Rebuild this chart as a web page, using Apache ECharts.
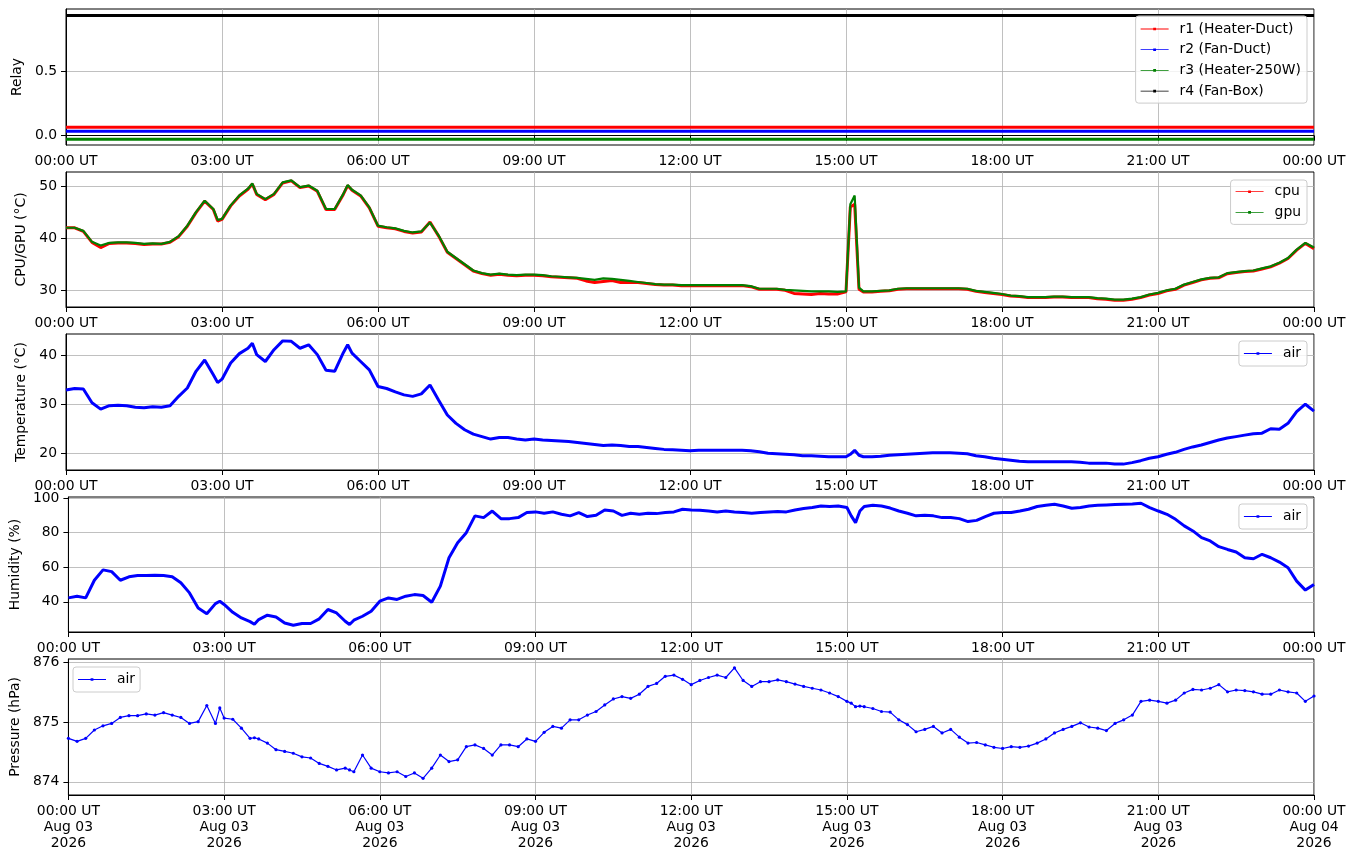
<!DOCTYPE html>
<html>
<head>
<meta charset="utf-8">
<title>Sensors</title>
<script src="https://cdn.jsdelivr.net/npm/echarts@6/dist/echarts.min.js"></script>
<style>
  html, body { margin: 0; padding: 0; background: #fff; }
  #main { width: 1355px; height: 861px; }
</style>
</head>
<body>
<div id="main"></div>
<script>
// sample times, minutes after 00:00 UT on Aug 03 2026
var minutes = [
  0, 10, 20, 30, 40, 50,
  60, 70, 80, 90, 100, 110,
  120, 130, 140, 150, 160, 170, 175,
  180, 190, 200, 210, 215, 220, 230,
  240, 250, 260, 270, 280, 290,
  300, 310, 320, 325, 330, 340, 350,
  360, 370, 380, 390, 400, 410,
  420, 430, 440, 450, 460, 470,
  480, 490, 500, 510, 520, 530,
  540, 550, 560, 570, 580, 590,
  600, 610, 620, 630, 640, 650,
  660, 670, 680, 690, 700, 710,
  720, 730, 740, 750, 760, 770,
  780, 790, 800, 810, 820, 830,
  840, 850, 860, 870, 880, 890,
  900, 905, 910, 915, 920, 930, 940, 950,
  960, 970, 980, 990, 1000, 1010,
  1020, 1030, 1040, 1050, 1060, 1070,
  1080, 1090, 1100, 1110, 1120, 1130,
  1140, 1150, 1160, 1170, 1180, 1190,
  1200, 1210, 1220, 1230, 1240, 1250,
  1260, 1270, 1280, 1290, 1300, 1310,
  1320, 1330, 1340, 1350, 1360, 1370,
  1380, 1390, 1400, 1410, 1420, 1430,
  1440
];

// relay states (plotted with a small offset each)
var relayNames = ['r1 (Heater-Duct)', 'r2 (Fan-Duct)', 'r3 (Heater-250W)', 'r4 (Fan-Box)'];
var relayLevels = [0.065, 0.034, -0.028, 0.93];

var cpu = [
  42.0, 42.0, 41.3, 39.2, 38.2, 39.0,
  39.1, 39.1, 39.0, 38.8, 38.9, 38.9,
  39.2, 40.3, 42.3, 44.9, 47.1, 45.5, 43.3,
  43.6, 46.2, 48.1, 49.4, 50.4, 48.4, 47.4,
  48.4, 50.6, 51.0, 49.7, 50.0, 49.0,
  45.5, 45.5, 48.4, 50.1, 49.2, 48.1, 45.8,
  42.3, 42.0, 41.8, 41.3, 41.0, 41.2,
  43.1, 40.4, 37.3, 36.1, 34.9, 33.7,
  33.2, 32.9, 33.1, 32.9, 32.8, 32.9,
  32.9, 32.8, 32.6, 32.5, 32.4, 32.3,
  31.8, 31.5, 31.7, 31.9, 31.5, 31.5,
  31.5, 31.3, 31.1, 31.0, 31.0, 30.9,
  30.9, 30.9, 30.9, 30.9, 30.9, 30.9,
  30.9, 30.7, 30.2, 30.2, 30.2, 30.0,
  29.4, 29.3, 29.2, 29.4, 29.3, 29.3,
  29.7, 46.0, 46.5, 30.2, 29.7, 29.7, 29.8, 29.9,
  30.2, 30.3, 30.3, 30.3, 30.3, 30.3,
  30.3, 30.3, 30.2, 29.8, 29.6, 29.4,
  29.2, 28.9, 28.8, 28.6, 28.6, 28.6,
  28.7, 28.7, 28.6, 28.6, 28.6, 28.4,
  28.3, 28.1, 28.1, 28.3, 28.6, 29.1,
  29.4, 29.9, 30.2, 31.0, 31.5, 32.0,
  32.3, 32.4, 33.2, 33.4, 33.6, 33.7,
  34.1, 34.5, 35.2, 36.1, 37.7, 39.0,
  38.0
];

var gpu = [
  42.0, 42.0, 41.4, 39.3, 38.6, 39.1,
  39.2, 39.2, 39.1, 38.9, 39.0, 38.9,
  39.3, 40.4, 42.4, 45.0, 47.2, 45.6, 43.5,
  43.7, 46.3, 48.2, 49.5, 50.5, 48.5, 47.5,
  48.5, 50.7, 51.1, 49.8, 50.1, 49.1,
  45.6, 45.6, 48.5, 50.2, 49.3, 48.2, 45.9,
  42.4, 42.1, 41.9, 41.4, 41.1, 41.3,
  43.0, 40.5, 37.4, 36.2, 35.0, 33.8,
  33.3, 33.0, 33.2, 33.0, 32.9, 33.0,
  33.0, 32.9, 32.7, 32.6, 32.5, 32.4,
  32.2, 32.0, 32.3, 32.2, 32.0, 31.8,
  31.6, 31.4, 31.2, 31.1, 31.1, 31.0,
  31.0, 31.0, 31.0, 31.0, 31.0, 31.0,
  31.0, 30.8, 30.3, 30.3, 30.3, 30.1,
  30.0, 29.9, 29.8, 29.8, 29.8, 29.7,
  29.8, 46.5, 48.2, 30.5, 29.8, 29.8, 29.9, 30.0,
  30.3, 30.4, 30.4, 30.4, 30.4, 30.4,
  30.4, 30.4, 30.3, 29.9, 29.7, 29.5,
  29.3, 29.0, 28.9, 28.7, 28.7, 28.7,
  28.8, 28.8, 28.7, 28.7, 28.7, 28.5,
  28.4, 28.2, 28.2, 28.4, 28.7, 29.2,
  29.5, 30.0, 30.3, 31.1, 31.6, 32.1,
  32.4, 32.5, 33.3, 33.5, 33.7, 33.8,
  34.2, 34.6, 35.3, 36.2, 37.8, 39.1,
  38.2
];

var airTemp = [
  32.9, 33.2, 33.1, 30.3, 29.0, 29.7,
  29.8, 29.7, 29.4, 29.3, 29.5, 29.4,
  29.7, 31.6, 33.3, 36.7, 39.0, 36.0, 34.4,
  35.1, 38.4, 40.3, 41.4, 42.4, 40.1, 38.7,
  41.1, 42.9, 42.8, 41.4, 42.1, 40.1,
  36.9, 36.7, 40.5, 42.1, 40.4, 38.7, 37.0,
  33.6, 33.2, 32.5, 31.9, 31.6, 32.1,
  33.9, 30.8, 27.8, 26.1, 24.8, 23.9,
  23.4, 22.9, 23.2, 23.2, 22.9, 22.7,
  22.9, 22.7, 22.6, 22.5, 22.4, 22.2,
  22.0, 21.8, 21.6, 21.7, 21.6, 21.4,
  21.4, 21.2, 21.0, 20.8, 20.7, 20.6,
  20.5, 20.6, 20.6, 20.6, 20.6, 20.6,
  20.6, 20.5, 20.3, 20.0, 19.9, 19.8,
  19.7, 19.5, 19.5, 19.4, 19.3, 19.3,
  19.3, 19.8, 20.6, 19.6, 19.3, 19.3, 19.4, 19.6,
  19.7, 19.8, 19.9, 20.0, 20.1, 20.1,
  20.1, 20.0, 19.9, 19.5, 19.3, 19.0,
  18.8, 18.6, 18.4, 18.3, 18.3, 18.3,
  18.3, 18.3, 18.3, 18.2, 18.0, 18.0,
  18.0, 17.8, 17.8, 18.1, 18.5, 19.0,
  19.3, 19.8, 20.2, 20.8, 21.3, 21.7,
  22.2, 22.7, 23.1, 23.4, 23.7, 24.0,
  24.1, 25.0, 24.9, 26.1, 28.5, 30.0,
  28.6
];

var airHum = [
  42.3, 43.3, 42.3, 52.5, 58.5, 57.5,
  52.5, 54.5, 55.3, 55.3, 55.4, 55.3,
  54.5, 51.0, 45.2, 36.5, 33.2, 39.0, 40.4,
  38.5, 34.0, 30.7, 28.6, 27.1, 29.8, 32.3,
  31.3, 27.8, 26.5, 27.5, 27.5, 30.2,
  35.6, 33.6, 28.8, 26.9, 29.4, 31.7, 34.6,
  40.4, 42.3, 41.4, 43.3, 44.2, 43.7,
  39.8, 49.1, 65.5, 74.2, 80.0, 89.7,
  88.7, 92.5, 88.1, 88.1, 88.7, 91.6,
  92.0, 91.2, 92.0, 90.6, 89.7, 91.6,
  89.3, 90.0, 93.1, 92.5, 90.0, 91.2,
  90.6, 91.2, 91.0, 91.6, 92.0, 93.5,
  93.1, 92.9, 92.5, 92.0, 92.5, 92.0,
  91.6, 91.2, 91.6, 92.0, 92.2, 92.0,
  93.1, 93.9, 94.5, 95.4, 95.1, 95.4,
  94.5, 89.7, 85.8, 92.5, 95.1, 95.8, 95.4, 94.2,
  92.5, 91.2, 89.7, 90.0, 89.7, 88.7,
  88.7, 88.1, 86.4, 87.1, 89.3, 91.2,
  91.6, 91.6, 92.5, 93.5, 95.1, 95.8,
  96.4, 95.4, 94.1, 94.5, 95.4, 95.8,
  96.0, 96.2, 96.4, 96.6, 97.0, 94.5,
  92.5, 90.6, 87.7, 83.9, 81.0, 77.1,
  75.2, 71.9, 70.3, 68.8, 65.5, 64.9,
  67.5, 65.5, 63.0, 59.7, 52.0, 46.8,
  50.1
];

var airPres = [
  874.73, 874.68, 874.73, 874.87, 874.94, 874.98,
  875.08, 875.11, 875.11, 875.14, 875.12, 875.16,
  875.12, 875.08, 874.98, 875.01, 875.28, 874.98, 875.24,
  875.07, 875.05, 874.90, 874.73, 874.74, 874.72, 874.65,
  874.54, 874.51, 874.48, 874.42, 874.40, 874.31,
  874.26, 874.20, 874.23, 874.20, 874.17, 874.45, 874.23,
  874.17, 874.15, 874.17, 874.09, 874.15, 874.06,
  874.23, 874.45, 874.34, 874.37, 874.59, 874.62,
  874.56, 874.45, 874.62, 874.62, 874.59, 874.72,
  874.68, 874.83, 874.93, 874.90, 875.04, 875.04,
  875.12, 875.18, 875.29, 875.39, 875.43, 875.40,
  875.47, 875.60, 875.65, 875.77, 875.79, 875.72,
  875.63, 875.70, 875.75, 875.79, 875.75, 875.91,
  875.70, 875.60, 875.68, 875.68, 875.71, 875.68,
  875.64, 875.60, 875.57, 875.54, 875.49, 875.43,
  875.35, 875.32, 875.26, 875.27, 875.26, 875.23, 875.18, 875.17,
  875.04, 874.96, 874.84, 874.88, 874.93, 874.82,
  874.88, 874.75, 874.65, 874.66, 874.62, 874.58,
  874.56, 874.59, 874.58, 874.60, 874.65, 874.72,
  874.82, 874.88, 874.93, 874.99, 874.92, 874.90,
  874.86, 874.98, 875.04, 875.12, 875.35, 875.37,
  875.35, 875.32, 875.37, 875.49, 875.55, 875.54,
  875.57, 875.63, 875.51, 875.54, 875.53, 875.51,
  875.47, 875.47, 875.54, 875.51, 875.49, 875.35,
  875.44
];

// tick labels
var xTicksHours = [0, 3, 6, 9, 12, 15, 18, 21, 24];
var dayLabels = ['Aug 03', 'Aug 04'];
var yearLabel = '2026';
var relayTicks = [0, 0.5];
var cpuTicks = [30, 40, 50];
var tempTicks = [20, 30, 40];
var humTicks = [40, 60, 80, 100];
var presTicks = [874, 875, 876];

var FONT = 'DejaVu Sans';
var FS = 13.9;
var GRID_COLOR = '#b0b0b0';

function pairs(values) {
  return minutes.map(function (m, i) { return [m / 60, values[i]]; });
}

function hhmm(h) {
  var hh = h % 24;
  return (hh < 10 ? '0' : '') + hh + ':00 UT';
}

var panels = [
  { top: 9,   height: 136, min: -0.072, max: 0.981, ticks: relayTicks, name: 'Relay', nameGap: 32, dec: 1 },
  { top: 172, height: 135, min: 26.8,  max: 52.7,  ticks: cpuTicks,  name: 'CPU/GPU (°C)', nameGap: 31, dec: 0 },
  { top: 334, height: 136, min: 16.6,  max: 44.3,  ticks: tempTicks, name: 'Temperature (°C)', nameGap: 34.5, dec: 0 },
  { top: 497, height: 135, min: 22.6,  max: 100.6, ticks: humTicks,  name: 'Humidity (%)', nameGap: 42, dec: 0 },
  { top: 659, height: 136, min: 873.78, max: 876.06, ticks: presTicks, name: 'Pressure (hPa)', nameGap: 40, dec: 0 }
];

var grids = [], xAxes = [], yAxes = [];
panels.forEach(function (p, i) {
  var last = i === panels.length - 1;
  grids.push({ left: 66, right: 41, top: p.top, height: p.height, show: true,
               borderColor: '#000', borderWidth: 1, backgroundColor: 'transparent' });
  xAxes.push({
    type: 'value', gridIndex: i, min: 0, max: 24, interval: 3,
    axisLine: { lineStyle: { color: '#000', width: 1 } },
    axisTick: { length: 5, lineStyle: { color: '#000' } },
    axisLabel: {
      margin: 8, color: '#000', fontFamily: FONT, fontSize: FS, lineHeight: 16,
      formatter: function (v) {
        if (!last) return hhmm(v);
        return hhmm(v) + '\n' + dayLabels[v >= 24 ? 1 : 0] + '\n' + yearLabel;
      }
    },
    splitLine: { show: true, lineStyle: { color: GRID_COLOR, width: 0.8 } }
  });
  yAxes.push({
    type: 'value', gridIndex: i, min: p.min, max: p.max,
    name: p.name, nameLocation: 'middle', nameGap: p.nameGap, nameRotate: 90,
    nameTextStyle: { color: '#000', fontFamily: FONT, fontSize: FS },
    axisLine: { show: true, lineStyle: { color: '#000', width: 1 } },
    axisTick: { show: true, length: 5, customValues: p.ticks, lineStyle: { color: '#000' } },
    axisLabel: {
      margin: 9, color: '#000', fontFamily: FONT, fontSize: FS, customValues: p.ticks,
      formatter: function (v) { return v.toFixed(p.dec); }
    },
    splitLine: { show: true, lineStyle: { color: GRID_COLOR, width: 0.8 } }
  });
});

// legend icon: thin line with a dot in the middle
var LEG_ICON = 'path://M0,1.1L28,1.1L28,1.9L0,1.9Z M12.6,0.2L15.4,0.2L15.4,2.8L12.6,2.8Z';
function legend(names, pos, padding) {
  var l = {
    data: names, orient: 'vertical', icon: LEG_ICON, itemWidth: 28, itemHeight: 3,
    itemGap: 4.7, padding: padding, selectedMode: false,
    backgroundColor: 'rgba(255,255,255,0.8)', borderColor: '#cccccc', borderWidth: 1, borderRadius: 3,
    textStyle: { color: '#000', fontFamily: FONT, fontSize: FS, lineHeight: 16, padding: [0, 0, 0, 6] }
  };
  for (var k in pos) l[k] = pos[k];
  return l;
}

var relayColors = ['#ff0000', '#0000ff', '#008000', '#000000'];
var series = [];
relayNames.forEach(function (n, i) {
  series.push({
    name: n, type: 'line', xAxisIndex: 0, yAxisIndex: 0, color: relayColors[i],
    symbol: 'none', lineStyle: { width: 3 },
    data: [[0, relayLevels[i]], [24, relayLevels[i]]]
  });
});
series.push({ name: 'cpu', type: 'line', xAxisIndex: 1, yAxisIndex: 1, color: '#ff0000',
  symbol: 'none', lineStyle: { width: 3 }, data: pairs(cpu) });
series.push({ name: 'gpu', type: 'line', xAxisIndex: 1, yAxisIndex: 1, color: '#008000',
  symbol: 'none', lineStyle: { width: 2.2 }, data: pairs(gpu) });
series.push({ name: 'air', type: 'line', xAxisIndex: 2, yAxisIndex: 2, color: '#0000ff',
  symbol: 'none', lineStyle: { width: 3 }, data: pairs(airTemp) });
series.push({ name: 'air', type: 'line', xAxisIndex: 3, yAxisIndex: 3, color: '#0000ff',
  symbol: 'none', lineStyle: { width: 3 }, data: pairs(airHum) });
series.push({ name: 'air', type: 'line', xAxisIndex: 4, yAxisIndex: 4, color: '#0000ff',
  symbol: 'circle', symbolSize: 3.2, showAllSymbol: true, lineStyle: { width: 1.2 }, data: pairs(airPres) });

var chart = echarts.init(document.getElementById('main'));
chart.setOption({
  animation: false,
  backgroundColor: '#fff',
  grid: grids,
  xAxis: xAxes,
  yAxis: yAxes,
  legend: [
    legend(relayNames, { right: 48, top: 16 }, [5, 6, 4, 5]),
    legend(['cpu', 'gpu'], { right: 48, top: 180 }, [3.7, 6, 4, 5]),
    legend(['air'], { right: 48, top: 341 }, [4.5, 6, 4.5, 5]),
    legend(['air'], { right: 48, top: 504 }, [4.5, 6, 4.5, 5]),
    legend(['air'], { left: 73, top: 667 }, [4.5, 5, 4.5, 5])
  ],
  series: series
});
</script>
</body>
</html>
